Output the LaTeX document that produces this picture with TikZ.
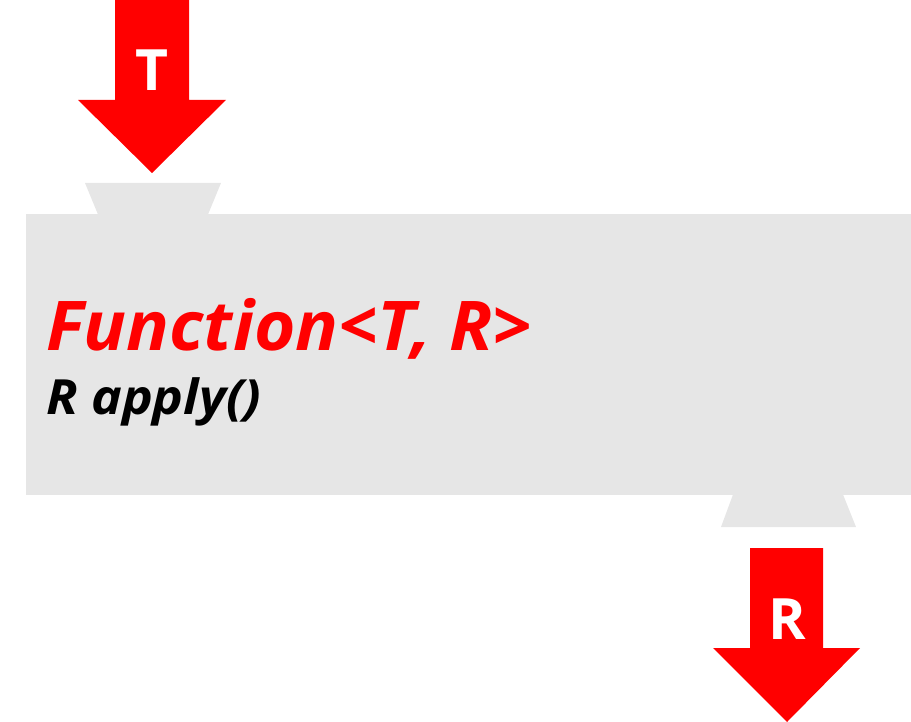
\documentclass[tikz,border=0pt]{standalone}
\usepackage{fontspec}
\setmainfont{Open Sans}
\usetikzlibrary{positioning}
\definecolor{boxgray}{RGB}{230,230,230}
\definecolor{arrowred}{RGB}{255,0,0}

\begin{document}
\begin{tikzpicture}[x=1pt,y=-1pt,
        port/.style={fill=boxgray},
        bigarrow/.style={fill=arrowred},
        arrowlabel/.style={text=white,font=\bfseries\fontsize{57}{60}\selectfont,inner sep=0,anchor=base}]
        \useasboundingbox (0,0) rectangle (911,722);
        % function box with its two ports
        \node[fill=boxgray,minimum width=885pt,minimum height=281pt,inner sep=0,anchor=north west] (funcbox) at (26,214) {};
        \fill[port] (85,183) -- (221,183) -- (208,214.5) -- (98,214.5) -- cycle;
        \fill[port] (733,494.5) -- (843,494.5) -- (856,527) -- (721,527) -- cycle;
        \node[text=arrowred,font=\bfseries\itshape\fontsize{68.6}{80}\selectfont,inner sep=0,anchor=base west] (fname) at (46,350.7) {\scalebox{1.035}[1]{Function<T, R>}};
        \node[font=\bfseries\itshape\fontsize{48.5}{56}\selectfont,inner sep=0,anchor=base west] (fapply) at (46,414) {\scalebox{1.07}[1]{R apply()}};
        % input and output arrows
        \fill[bigarrow] (115,0) -- (189,0) -- (189,100) -- (226,100) -- (152,173) -- (78,100) -- (115,100) -- cycle;
        \fill[bigarrow] (750,548) -- (823,548) -- (823,648) -- (860,648) -- (787,722) -- (713,648) -- (750,648) -- cycle;
        \node[arrowlabel] (tin) at (152,90.7) {T};
        \node[arrowlabel] (rout) at (787,639) {R};
    \end{tikzpicture}
\end{document}
